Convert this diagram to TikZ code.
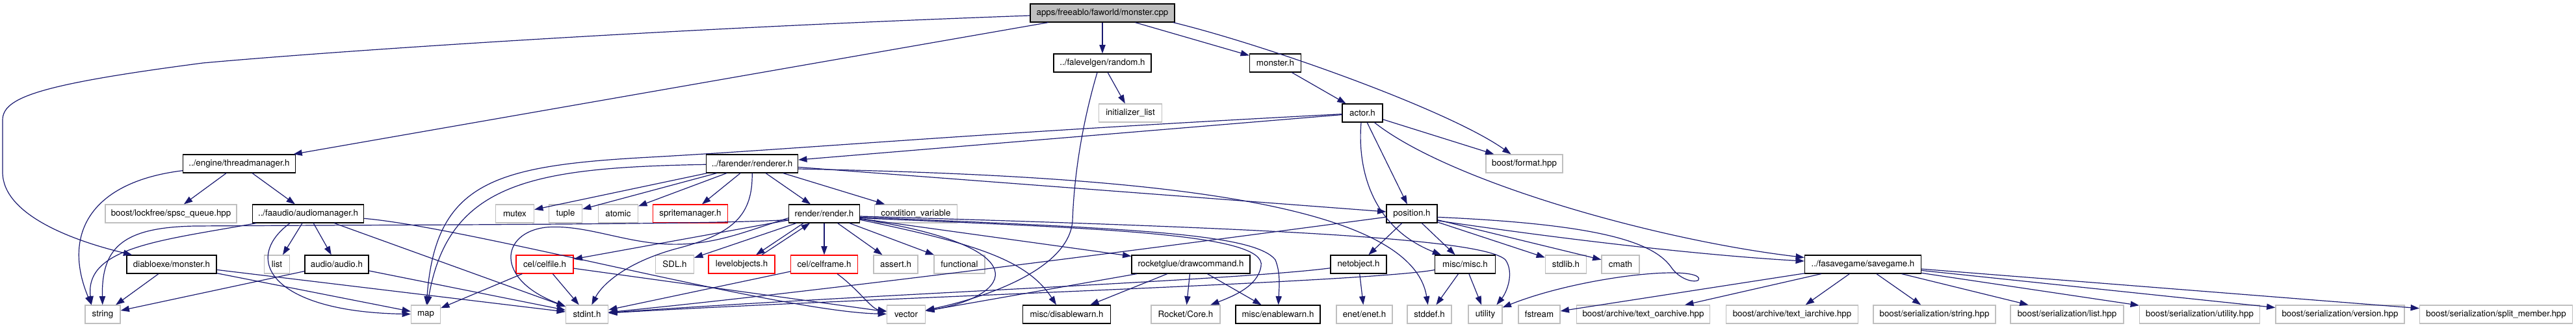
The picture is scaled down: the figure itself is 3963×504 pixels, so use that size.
\documentclass[tikz,border=0pt]{standalone}
\usepackage{fontspec}
\setmainfont{TeX Gyre Heros}
\usetikzlibrary{arrows.meta}
\definecolor{edgecol}{HTML}{191970}
\definecolor{sysgray}{HTML}{BFBFBF}
\definecolor{maingray}{HTML}{BFBFBF}
\begin{document}
\begin{tikzpicture}[x=0.75pt,y=-0.75pt,
  n/.style={draw=black, fill=white, line width=0.9pt, minimum height=21pt, inner xsep=2pt, inner ysep=0pt, font=\fontsize{10}{12}\selectfont},
  sys/.style={n, draw=sysgray},
  trunc/.style={n, draw=red},
  mainnode/.style={n, fill=maingray},
  w/.style={minimum width=#1*0.75pt},
  e/.style={draw=edgecol, line width=0.9pt, -{Triangle[length=10pt,width=7pt]}}]
\useasboundingbox (0,0) rectangle (3963,504);
% level 0
\node[mainnode, w=222] (mcpp) at (1696,20) {apps/freeablo/faworld/monster.cpp};
% level 1
\node[n, w=150] (random) at (1696,97) {../falevelgen/random.h};
\node[n, w=79] (monsterh) at (1962,97) {monster.h};
% level 2
\node[sys, w=97] (initlist) at (1739,174) {initializer\_list};
\node[n, w=62] (actor) at (2096,174) {actor.h};
% level 3
\node[n, w=173] (tmgr) at (368,252) {../engine/threadmanager.h};
\node[n, w=141] (renderer) at (1157,252) {../farender/renderer.h};
\node[sys, w=118] (format) at (2345,252) {boost/format.hpp};
% level 4
\node[sys, w=202] (spsc) at (263,329) {boost/lockfree/spsc\_queue.hpp};
\node[n, w=171] (amgr) at (474,329) {../faaudio/audiomanager.h};
\node[sys, w=59] (mutex) at (792,329) {mutex};
\node[sys, w=51] (tuple) at (870,329) {tuple};
\node[sys, w=61] (atomic) at (951,329) {atomic};
\node[trunc, w=115] (sprmgr) at (1062,329) {spritemanager.h};
\node[n, w=109] (render) at (1268,329) {render/render.h};
\node[sys, w=127] (condvar) at (1409,329) {condition\_variable};
\node[n, w=78] (position) at (2172,329) {position.h};
% level 5
\node[n, w=138] (diablo) at (264,407) {diabloexe/monster.h};
\node[sys, w=39] (list) at (426,407) {list};
\node[n, w=98] (audio) at (518,407) {audio/audio.h};
\node[trunc, w=88] (celfile) at (838,407) {cel/celfile.h};
\node[sys, w=59] (sdl) at (1038,407) {SDL.h};
\node[trunc, w=102] (levelobj) at (1141,407) {levelobjects.h};
\node[trunc, w=103] (celframe) at (1268,407) {cel/celframe.h};
\node[sys, w=68] (assert) at (1378,407) {assert.h};
\node[sys, w=78] (functional) at (1476,407) {functional};
\node[n, w=182] (rocketglue) at (1832,407) {rocketglue/drawcommand.h};
\node[n, w=86] (netobject) at (2090,407) {netobject.h};
\node[n, w=93] (misc) at (2254,407) {misc/misc.h};
\node[sys, w=63] (stdlib) at (2409,407) {stdlib.h};
\node[sys, w=58] (cmath) at (2493,407) {cmath};
\node[n, w=179] (savegame) at (2866,407) {../fasavegame/savegame.h};
% level 6
\node[sys, w=54] (string) at (158,484) {string};
\node[sys, w=45] (map) at (655,484) {map};
\node[sys, w=65] (stdint) at (903,484) {stdint.h};
\node[sys, w=59] (vector) at (1394,484) {vector};
\node[n, w=135] (disablewarn) at (1641,484) {misc/disablewarn.h};
\node[sys, w=106] (rocketcore) at (1824,484) {Rocket/Core.h};
\node[n, w=130] (enablewarn) at (1966,484) {misc/enablewarn.h};
\node[sys, w=86] (enet) at (2099,484) {enet/enet.h};
\node[sys, w=68] (stddef) at (2199,484) {stddef.h};
\node[sys, w=52] (utility) at (2285,484) {utility};
\node[sys, w=64] (fstream) at (2368,484) {fstream};
\node[sys, w=205] (oarch) at (2528,484) {boost/archive/text\_oarchive.hpp};
\node[sys, w=203] (iarch) at (2757,484) {boost/archive/text\_iarchive.hpp};
\node[sys, w=188] (sstring) at (2976,484) {boost/serialization/string.hpp};
\node[sys, w=174] (slist) at (3180,484) {boost/serialization/list.hpp};
\node[sys, w=185] (sutility) at (3384,484) {boost/serialization/utility.hpp};
\node[sys, w=198] (sversion) at (3600,484) {boost/serialization/version.hpp};
\node[sys, w=235] (ssplit) at (3840,484) {boost/serialization/split\_member.hpp};

% edges from monster.cpp
\draw[e] (mcpp) .. controls (1000,45) and (500,80) .. (312,97) .. controls (60,130) and (4,150) .. (4,185) -- (4,265) .. controls (4,330) and (110,370) .. (diablo);
\draw[e] (mcpp) -- (tmgr);
\draw[e] (mcpp) -- (random);
\draw[e] (mcpp) -- (monsterh);
\draw[e] ([xshift=-2pt]mcpp.south east) .. controls (1950,70) and (2230,170) .. (format);
% random.h
\draw[e] (random) -- (initlist);
\draw[e] ([xshift=-6pt]random.south) .. controls (1662,200) and (1652,280) .. (1650,340) .. controls (1645,410) and (1530,455) .. (vector);
% monster.h
\draw[e] (monsterh) -- (actor);
% actor.h
\draw[e] (actor) -- (renderer);
\draw[e] (actor) .. controls (1500,205) and (1250,228) .. (1000,242) .. controls (760,255) and (670,280) .. (map);
\draw[e] (actor) -- (format);
\draw[e] (actor) -- (position);
\draw[e] ([xshift=-1.5pt]actor.south) .. controls (2088,260) and (2110,350) .. (misc);
\draw[e] (actor) .. controls (2230,280) and (2550,370) .. (savegame);
% threadmanager
\draw[e] (tmgr) .. controls (140,280) and (95,360) .. ([xshift=-13pt]string.north);
\draw[e] (tmgr) -- (spsc);
\draw[e] (tmgr) -- (amgr);
% renderer.h
\draw[e] (renderer) -- (mutex);
\draw[e] (renderer) -- (tuple);
\draw[e] (renderer) -- (atomic);
\draw[e] (renderer) -- (sprmgr);
\draw[e] (renderer) -- (render);
\draw[e] (renderer) -- (condvar);
\draw[e] (renderer) .. controls (820,258) and (690,280) .. (map);
\draw[e] (renderer) .. controls (1158,330) and (1130,360) .. (1040,383) .. controls (960,405) and (925,440) .. (stdint);
\draw[e] (renderer) -- (position);
\draw[e] ([yshift=-6pt]renderer.east) .. controls (1700,270) and (2170,300) .. (stddef);
% render.h
\draw[e] ([yshift=-7pt]render.west) .. controls (1100,346) and (600,346) .. (300,348) .. controls (190,350) and (156,380) .. (string);
\draw[e] (render) -- (celfile);
\draw[e] (render) -- (sdl);
\draw[e] ([xshift=-24pt]render.south) -- ([xshift=16.5pt]levelobj.north);
\draw[e] ([xshift=23.25pt]levelobj.north) -- ([xshift=-16.5pt]render.south);
\draw[e] (render) -- (celframe);
\draw[e] (render) -- (assert);
\draw[e] (render) -- (functional);
\draw[e] (render) -- (rocketglue);
\draw[e] ([yshift=-5pt]render.west) .. controls (1150,355) and (1100,378) .. (1030,376) .. controls (960,374) and (900,345) .. (840,350) .. controls (770,358) and (760,430) .. (stdint);
\draw[e] ([yshift=-6pt]render.east) .. controls (1600,380) and (1560,455) .. (vector);
\draw[e] ([yshift=-7pt]render.east) .. controls (1500,375) and (1580,400) .. ([xshift=-12pt]disablewarn.north);
\draw[e] ([yshift=-5pt]render.east) .. controls (1700,352) and (1950,360) .. (1940,410) .. controls (1935,440) and (1900,455) .. (rocketcore);
\draw[e] ([yshift=-4pt]render.east) .. controls (1750,352) and (1930,360) .. (1962,400) .. controls (1970,420) and (1968,440) .. (enablewarn);
\draw[e] ([yshift=-3pt]render.east) .. controls (1900,350) and (2280,365) .. (2316,400) .. controls (2330,420) and (2318,450) .. ([xshift=13pt]utility.north);
% rocketglue
\draw[e] (rocketglue) -- (vector);
\draw[e] (rocketglue) -- (disablewarn);
\draw[e] (rocketglue) -- (rocketcore);
\draw[e] (rocketglue) -- (enablewarn);
% celfile / celframe
\draw[e] (celfile) -- (map);
\draw[e] (celfile) -- (stdint);
\draw[e] (celfile) -- (vector);
\draw[e] (celframe) -- (stdint);
\draw[e] (celframe) .. controls (1320,445) and (1340,475) .. (vector);
% audiomanager
\draw[e] (amgr) .. controls (250,370) and (130,380) .. ([xshift=-13pt]string.north);
\draw[e] (amgr) -- (list);
\draw[e] (amgr) -- (audio);
\draw[e] ([xshift=-21pt]amgr.south) .. controls (370,400) and (420,480) .. (map);
\draw[e] (amgr) -- (stdint);
\draw[e] (amgr) .. controls (720,350) and (1200,480) .. (vector);
% diablo / audio
\draw[e] (diablo) -- (string);
\draw[e] (diablo) -- (map);
\draw[e] (diablo) -- (stdint);
\draw[e] (audio) -- (string);
\draw[e] (audio) -- (stdint);
% position.h
\draw[e] (position) -- (netobject);
\draw[e] (position) -- (misc);
\draw[e] (position) -- (stdlib);
\draw[e] (position) -- (cmath);
\draw[e] ([yshift=-8pt]position.east) .. controls (2450,375) and (2650,395) .. (savegame);
\draw[e] ([yshift=-4pt]position.east) .. controls (2450,345) and (2540,370) .. (2570,410) .. controls (2590,440) and (2625,435) .. (2610,425) .. controls (2580,410) and (2420,430) .. (utility);
\draw[e] (position) .. controls (1900,365) and (1300,445) .. (stdint);
% misc / netobject
\draw[e] (misc) -- (stddef);
\draw[e] (misc) -- (utility);
\draw[e] (misc) .. controls (2100,435) and (1300,460) .. (stdint);
\draw[e] (netobject) -- (enet);
\draw[e] (netobject) .. controls (1900,432) and (1300,455) .. (stdint);
% savegame
\draw[e] (savegame) -- (fstream);
\draw[e] (savegame) -- (oarch);
\draw[e] (savegame) -- (iarch);
\draw[e] (savegame) -- (sstring);
\draw[e] (savegame) -- (slist);
\draw[e] (savegame) -- (sutility);
\draw[e] (savegame) -- (sversion);
\draw[e] (savegame) -- (ssplit);
\end{tikzpicture}
\end{document}
